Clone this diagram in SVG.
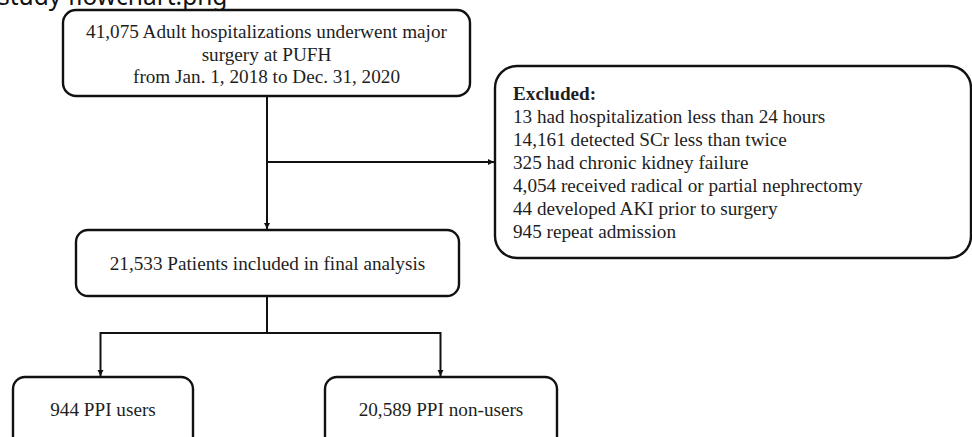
<svg xmlns="http://www.w3.org/2000/svg" width="972" height="437" viewBox="0 0 972 437">
  <style>
    .box { fill: #ffffff; stroke: #111111; stroke-width: 2.4; }
    .t { font-family: "Liberation Serif", "Times New Roman", serif; font-size: 19.2px; fill: #1e1e1e; }
    .c { text-anchor: middle; }
    .b { font-weight: bold; }
    .title { font-family: "Noto Sans", "Open Sans", sans-serif; font-size: 24.5px; fill: #111111; }
    .link { fill: none; stroke: #111111; stroke-width: 2; }
  </style>
  <defs>
    <marker id="arrow" viewBox="0 0 10 10" refX="10" refY="5" markerWidth="3.2" markerHeight="3.2" orient="auto" markerUnits="strokeWidth">
      <path d="M0,0 L10,5 L0,10 Z" fill="#111111"/>
    </marker>
  </defs>

  <rect width="972" height="437" fill="#ffffff"/>

  <text class="title" x="-2" y="5">study flowchart.png</text>

  <!-- connectors -->
  <g id="connectors">
    <path class="link" d="M267,96 V229" marker-end="url(#arrow)"/>
    <path class="link" d="M267,162 H494" marker-end="url(#arrow)"/>
    <path class="link" d="M267,297 V333"/>
    <path class="link" d="M100.5,333 H441"/>
    <path class="link" d="M100.5,332 V376" marker-end="url(#arrow)"/>
    <path class="link" d="M440.5,332 V376" marker-end="url(#arrow)"/>
  </g>

  <g id="node-source">
    <rect class="box" x="63" y="10" width="407" height="86" rx="13"/>
    <text class="t c" x="266.5" y="38">41,075 Adult hospitalizations underwent major</text>
    <text class="t c" x="266.5" y="60.5">surgery at PUFH</text>
    <text class="t c" x="266.5" y="82.5">from Jan. 1, 2018 to Dec. 31, 2020</text>
  </g>

  <g id="node-excluded">
    <rect class="box" x="495" y="66" width="476" height="192" rx="22"/>
    <text class="t b" x="513" y="100">Excluded:</text>
    <text class="t" x="513" y="123">13 had hospitalization less than 24 hours</text>
    <text class="t" x="513" y="146">14,161 detected SCr less than twice</text>
    <text class="t" x="513" y="169">325 had chronic kidney failure</text>
    <text class="t" x="513" y="192">4,054 received radical or partial nephrectomy</text>
    <text class="t" x="513" y="214.5">44 developed AKI prior to surgery</text>
    <text class="t" x="513" y="237.5">945 repeat admission</text>
  </g>

  <g id="node-included">
    <rect class="box" x="76" y="230" width="383" height="66" rx="12"/>
    <text class="t c" x="267.5" y="270">21,533 Patients included in final analysis</text>
  </g>

  <g id="node-users">
    <rect class="box" x="13" y="377" width="180" height="80" rx="12"/>
    <text class="t c" x="103" y="416">944 PPI users</text>
  </g>

  <g id="node-nonusers">
    <rect class="box" x="325" y="377" width="232" height="80" rx="12"/>
    <text class="t c" x="441" y="416">20,589 PPI non-users</text>
  </g>
</svg>
